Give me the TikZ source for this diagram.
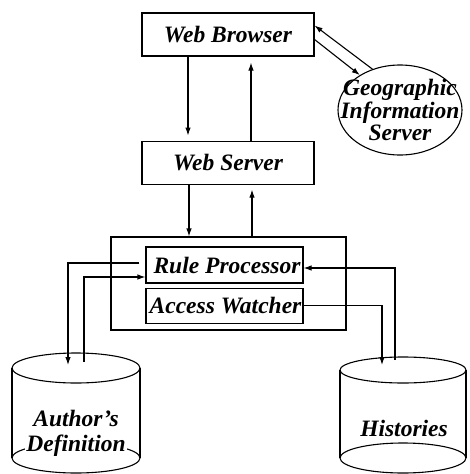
\documentclass[tikz,border=0pt]{standalone}
\usepackage{fontspec}
\setmainfont{Liberation Serif}
\usetikzlibrary{positioning,arrows.meta,shapes.geometric}
\newcommand{\lab}{\fontsize{23.5}{22.5}\selectfont\bfseries\itshape}

\begin{document}
\begin{tikzpicture}[x=1pt, y=-1pt,
    line width=1.1pt,
    >={Latex[length=8pt,width=5.5pt]},
    box/.style={draw, minimum width=172pt, minimum height=43pt, font=\lab},
    part/.style={draw, minimum width=157pt, minimum height=36pt, inner sep=1pt, font=\lab}]
    \useasboundingbox (0,0) rectangle (469,474);
    % top half
    \node[box] (wb) at (228,34.5) {Web Browser};
    \node[box] (ws) [below=84pt of wb] {Web Server};
    \node[draw, ellipse, minimum width=124pt, minimum height=90pt] (gis) at (400,110) {};
    \node[align=center, font=\lab] (gistext) at (gis.center) {Geographic\\Information\\Server};
    % access control unit
    \node[draw, minimum width=235pt, minimum height=93pt] (core) at (228.5,283.5) {};
    \node[part] (rp) at (224.5,265) {\hspace*{5pt}Rule Processor};
    \node[part, minimum height=35pt] (aw) [below=4pt of rp] {\hspace*{2pt}Access Watcher};
    % databases
    \draw (76,368) ellipse [x radius=64pt, y radius=15pt];
    \draw (12,368) -- (12,458) (140,368) -- (140,458);
    \draw (76,458) ellipse [x radius=64pt, y radius=15pt];
    \node[align=center, fill=white, inner sep=1pt, font=\fontsize{23.5}{25}\selectfont\bfseries\itshape] (ad) at (76,433) {Author's\\Definition};
    \draw (403,370) ellipse [x radius=63pt, y radius=13pt];
    \draw (340,370) -- (340,458) (466,370) -- (466,458);
    \draw (403,458) ellipse [x radius=63pt, y radius=15pt];
    \node[font=\lab] (hi) at (404,428) {Histories};
    \coordinate (adin) at (68,365);
    \coordinate (adout) at (84,362);
    \coordinate (hiin) at (382,365);
    \coordinate (hiout) at (395,360);
    % connectors
    \draw[->, shorten >=5pt] ([xshift=-40pt]wb.south) -- ([xshift=-40pt]wb.south |- ws.north);
    \draw[->, shorten >=6pt] ([xshift=23pt]ws.north) -- ([xshift=23pt]ws.north |- wb.south);
    \draw[->] ([xshift=-39pt]ws.south) -- ([xshift=-39pt]ws.south |- core.north);
    \draw[->, shorten >=5pt] ([xshift=23.5pt]core.north) -- ([xshift=23.5pt]core.north |- ws.south);
    \draw[->] (gis.124) -- ([yshift=9pt]wb.east);
    \draw[->] ([yshift=-5pt]wb.east) -- (gis.139);
    \draw[->, shorten <=6pt] ([yshift=2pt]rp.west) -| (adin);
    \draw[->] (adout) |- ([yshift=-12pt]rp.west);
    \draw[->] (hiout) |- ([yshift=-3pt]rp.east);
    \draw[->] (aw.east) -| (hiin);
\end{tikzpicture}
\end{document}
